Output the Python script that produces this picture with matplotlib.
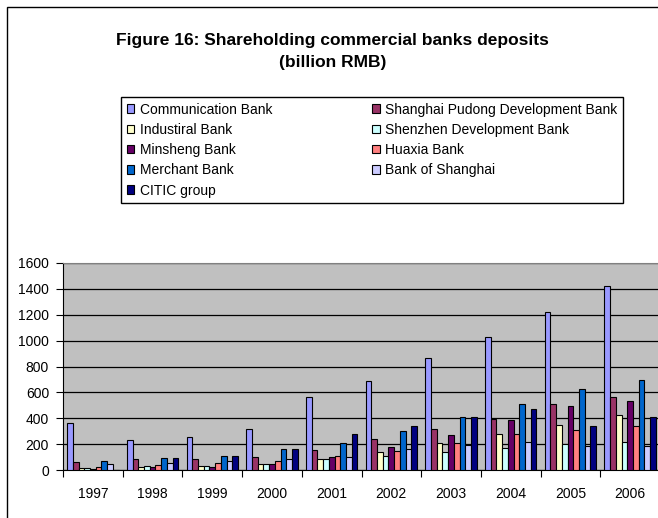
import matplotlib
matplotlib.use("Agg")
import matplotlib.pyplot as plt
import numpy as np
from matplotlib.patches import Rectangle

plt.rcParams["font.family"] = ["Liberation Sans", "DejaVu Sans"]

years = ["1997", "1998", "1999", "2000", "2001", "2002", "2003", "2004", "2005", "2006"]

communication = [362, 231, 254, 320, 562, 689, 868, 1031, 1222, 1419]
spdb = [62, 83, 83, 101, 153, 238, 318, 394, 513, 565]
industrial = [18, 20, 31, 49, 88, 140, 212, 280, 350, 422]
shenzhen = [18, 30, 31, 49, 88, 111, 142, 168, 200, 215]
minsheng = [10, 20, 24, 49, 101, 181, 272, 383, 492, 531]
huaxia = [21, 39, 52, 73, 111, 150, 212, 280, 311, 342]
merchant = [70, 91, 109, 160, 212, 303, 409, 513, 629, 699]
shanghai = [44, 52, 70, 88, 98, 160, 194, 220, 189, 189]
citic = [0, 90, 110, 160, 280, 339, 409, 471, 342, 409]

names = ["Communication Bank", "Shanghai Pudong Development Bank", "Industiral Bank",
         "Shenzhen Development Bank", "Minsheng Bank", "Huaxia Bank", "Merchant Bank",
         "Bank of Shanghai", "CITIC group"]
series = [communication, spdb, industrial, shenzhen, minsheng, huaxia, merchant, shanghai, citic]
colors = ["#9999FF", "#993366", "#FFFFCC", "#CCFFFF", "#660066", "#FF8080",
          "#0066CC", "#CCCCFF", "#000080"]

W, H = 658, 518
fig = plt.figure(figsize=(W / 100, H / 100), dpi=100)
fig.patch.set_facecolor("white")

# outer chart border (runs off the right/bottom edge like the cropped original)
fig.add_artist(Rectangle((7 / W, -0.01), 1.0, 1.01 - 7 / H, transform=fig.transFigure,
                         fill=False, edgecolor="black", linewidth=1.0))

ax = fig.add_axes([63 / W, (H - 470) / H, 597 / W, (470 - 263) / H])
ax.set_facecolor("#C0C0C0")

n = len(series)
bw = 0.0955
start = (1 - n * bw) / 2
x = np.arange(len(years))
handles = []
for k, (vals, col, name) in enumerate(zip(series, colors, names)):
    b = ax.bar(x + start + k * bw, vals, width=bw, align="edge", color=col,
               edgecolor="black", linewidth=0.8, label=name, zorder=3)
    handles.append(b)

ax.set_xlim(0, len(years))
ax.set_ylim(0, 1600)
ax.set_yticks(np.arange(0, 1601, 200))
ax.yaxis.grid(True, color="black", linewidth=0.9, zorder=0)
ax.set_axisbelow(True)

ax.set_xticks(np.arange(0, len(years) + 1))
ax.set_xticklabels([])
ax.set_xticks(x + 0.5, minor=True)
ax.set_xticklabels(years, minor=True)
ax.tick_params(axis="x", which="major", length=5, direction="out", width=0.8)
ax.tick_params(axis="x", which="minor", length=0, pad=12, labelsize=10)
ax.tick_params(axis="y", length=5, direction="out", width=0.8, labelsize=10, pad=5)

ax.spines["top"].set_color("#808080")
ax.spines["right"].set_visible(False)
ax.spines["left"].set_color("black")
ax.spines["bottom"].set_color("black")

fig.text(0.505, (H - 40) / H, "Figure 16: Shareholding commercial banks deposits",
         ha="center", va="center", fontsize=12.5, fontweight="bold")
fig.text(0.505, (H - 62) / H, "(billion RMB)", ha="center", va="center",
         fontsize=12.5, fontweight="bold")

# legend reads row-wise in the reference, matplotlib fills by column
order = [0, 2, 4, 6, 8, 1, 3, 5, 7]
leg = fig.legend([handles[i] for i in order], [names[i] for i in order],
                 loc="upper left", ncol=2, mode="expand",
                 bbox_to_anchor=(121 / W, (H - 203) / H, (623 - 121) / W, (203 - 97) / H),
                 fontsize=10, frameon=True, fancybox=False, framealpha=1,
                 edgecolor="black", handlelength=0.55, handleheight=0.55,
                 handletextpad=0.4, labelspacing=0.45, borderpad=0.4,
                 borderaxespad=0)
leg.get_frame().set_linewidth(1.0)

fig.savefig("out.png", dpi=100, facecolor="white")
